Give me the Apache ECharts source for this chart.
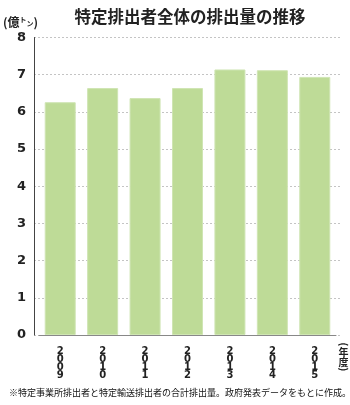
<!DOCTYPE html>
<html>
<head>
<meta charset="utf-8">
<script src="https://cdn.jsdelivr.net/npm/echarts@6/dist/echarts.min.js"></script>
<style>
  html, body { margin: 0; padding: 0; background: #fff; }
  #chart { width: 350px; height: 405px; }
</style>
</head>
<body>
<div id="chart"></div>
<script>
// 年度ごとの排出量（億トン）
const years = ['2009', '2010', '2011', '2012', '2013', '2014', '2015'];
const emissions = [6.26, 6.64, 6.37, 6.64, 7.14, 7.12, 6.94];
const yTicks = [0, 1, 2, 3, 4, 5, 6, 7, 8];

const FONT = '"Noto Sans CJK JP", "Noto Sans", sans-serif';
const NUM_FONT = '"DejaVu Sans", sans-serif';
const yMin = yTicks[0];
const yMax = yTicks[yTicks.length - 1];

const chart = echarts.init(document.getElementById('chart'), null, { renderer: 'canvas' });

chart.setOption({
  animation: false,
  backgroundColor: '#fff',
  title: {
    text: '特定排出者全体の排出量の推移',
    left: 185,
    top: 3,
    textAlign: 'center',
    textStyle: { fontFamily: FONT, fontSize: 16.5, fontWeight: 'bold', color: '#222' }
  },
  grid: [
    // 目盛り線・軸線用
    { left: 34, right: 10, top: 37.5, bottom: 70 },
    // 棒グラフ用
    { left: 39, right: 14, top: 37.5, bottom: 70 }
  ],
  xAxis: [
    {
      gridIndex: 0, type: 'value', min: 0, max: 1, show: true,
      axisLine: { show: false }, axisTick: { show: false },
      axisLabel: { show: false }, splitLine: { show: false }
    },
    {
      gridIndex: 1, type: 'category', data: years,
      axisLine: { show: true, lineStyle: { color: '#888', width: 1 } },
      axisTick: { show: false },
      axisLabel: {
        interval: 0,
        margin: 12,
        fontFamily: NUM_FONT,
        fontSize: 10,
        fontWeight: 'bold',
        lineHeight: 8.2,
        color: '#222',
        formatter: v => v.split('').join('\n')
      }
    }
  ],
  yAxis: [
    {
      gridIndex: 0, type: 'value', min: yMin, max: yMax, interval: 1,
      axisLine: { show: true, lineStyle: { color: '#444', width: 1 } },
      axisTick: { show: false },
      splitLine: { show: true, lineStyle: { color: '#c4c4c4', type: [2, 2], width: 1 } },
      axisLabel: {
        margin: 8,
        fontFamily: NUM_FONT,
        fontSize: 13,
        fontWeight: 'bold',
        color: '#222',
        padding: [5, 0, 0, 0],
        formatter: v => String(v)
      }
    },
    {
      gridIndex: 1, type: 'value', min: yMin, max: yMax, interval: 1, show: false,
      splitLine: { show: false }
    }
  ],
  series: [
    {
      type: 'bar',
      xAxisIndex: 1,
      yAxisIndex: 1,
      data: emissions,
      barWidth: 31,
      itemStyle: { color: '#bedb97', borderColor: '#cfe5b3', borderWidth: 1 }
    }
  ],
  graphic: [
    {
      type: 'text', left: 3, top: 16,
      style: {
        text: '(億{s|ト}{t|ン})',
        rich: {
          s: { fontSize: 7, fontWeight: 'bold', fontFamily: FONT, color: '#222', padding: [0, 0, 6, 0] },
          t: { fontSize: 7, fontWeight: 'bold', fontFamily: FONT, color: '#222', padding: [2, 0, 0, 0] }
        },
        fontFamily: FONT, fontSize: 12, fontWeight: 'bold', fill: '#222'
      }
    },
    // 単位「(年度)」の縦書き
    {
      type: 'text', x: 343.5, y: 344.5, rotation: -Math.PI / 2,
      style: {
        text: '(', fontFamily: FONT, fontSize: 10, fontWeight: 'bold', fill: '#222',
        align: 'center', verticalAlign: 'middle'
      }
    },
    {
      type: 'text', x: 343.5, y: 347,
      style: {
        text: '年\n度', fontFamily: FONT, fontSize: 10, fontWeight: 'bold', lineHeight: 10,
        fill: '#222', align: 'center', verticalAlign: 'top'
      }
    },
    {
      type: 'text', x: 343.5, y: 369.5, rotation: -Math.PI / 2,
      style: {
        text: ')', fontFamily: FONT, fontSize: 10, fontWeight: 'bold', fill: '#222',
        align: 'center', verticalAlign: 'middle'
      }
    },
    {
      type: 'text', left: 9, top: 388,
      style: {
        text: '※特定事業所排出者と特定輸送排出者の合計排出量。政府発表データをもとに作成。',
        fontFamily: FONT, fontSize: 9, fill: '#111'
      }
    }
  ]
});
</script>
</body>
</html>
